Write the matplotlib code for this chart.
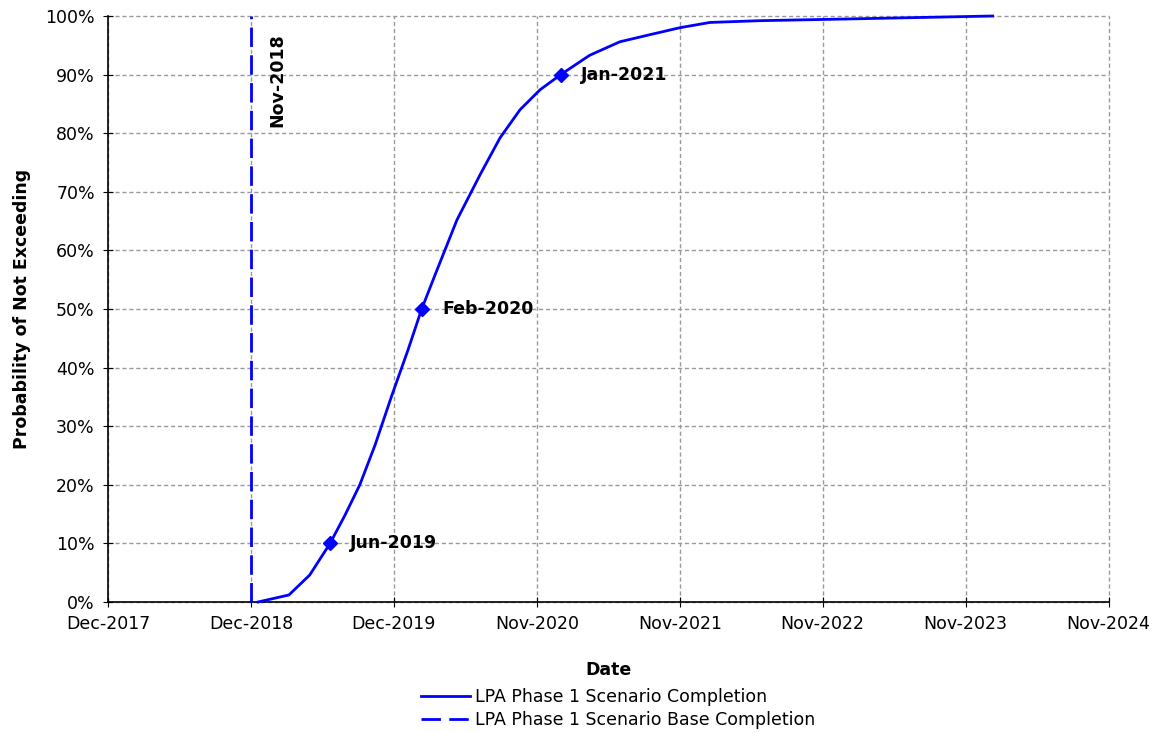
import datetime as dt
import matplotlib
matplotlib.use("Agg")
import matplotlib.pyplot as plt
import matplotlib.dates as mdates
from matplotlib.ticker import FuncFormatter

# Completion curve (date, probability %)
curve_dates = ["2018-12-19", "2019-03-08", "2019-04-30", "2019-06-21", "2019-07-29",
               "2019-09-05", "2019-10-14", "2019-11-26", "2020-01-06", "2020-02-10",
               "2020-03-15", "2020-05-10", "2020-07-08", "2020-08-28", "2020-10-18",
               "2020-12-08", "2021-01-30", "2021-04-14", "2021-06-30", "2021-09-14",
               "2021-11-30", "2022-02-15", "2022-06-22", "2023-02-07", "2024-02-07"]
curve_pct = [0, 1.2, 4.6, 10, 14.8, 20, 26.8, 35.3, 43, 50,
             55.8, 65.2, 72.9, 79.2, 84, 87.4, 90, 93.3, 95.6, 96.8,
             98, 98.9, 99.2, 99.5, 100]

# labelled points
mark_dates = ["2019-06-21", "2020-02-10", "2021-01-30"]
mark_pct = [10, 50, 90]
mark_labels = ["Jun-2019", "Feb-2020", "Jan-2021"]

base_date = "2018-12-01"
base_label = "Nov-2018"

# axis ticks every 365 days from Dec-2017
axis_start = dt.date(2017, 12, 1)
n_ticks = 8

to_date = lambda s: dt.datetime.strptime(s, "%Y-%m-%d")

plt.rcParams['font.family'] = ['DejaVu Sans']
fig = plt.figure(figsize=(11.6, 7.33), dpi=100)
ax = fig.add_axes([108/1160, 1 - 602/733, (1109-108)/1160, (602-16)/733])

blue = "#0000ff"
x = [to_date(d) for d in curve_dates]
ax.plot(x, curve_pct, color=blue, lw=2, label="LPA Phase 1 Scenario Completion",
        zorder=3, clip_on=False)

bx = to_date(base_date)
ax.plot([bx, bx], [0, 100], color=blue, lw=2, dashes=(7, 3),
        label="LPA Phase 1 Scenario Base Completion", zorder=3, clip_on=False)
ax.text(bx + dt.timedelta(days=68), 97, base_label, rotation=90, ha="center", va="top",
        fontsize=12.5, fontweight="bold")

mx = [to_date(d) for d in mark_dates]
ax.plot(mx, mark_pct, "D", color=blue, ms=7, zorder=4)
for xi, yi, lab in zip(mx, mark_pct, mark_labels):
    ax.text(xi + dt.timedelta(days=52), yi, lab, ha="left", va="center",
            fontsize=12.5, fontweight="bold")

ticks = [axis_start + dt.timedelta(days=365 * i) for i in range(n_ticks)]
ax.set_xticks(ticks)
ax.xaxis.set_major_formatter(mdates.DateFormatter("%b-%Y"))
ax.set_xlim(ticks[0], ticks[-1] + dt.timedelta(days=1))
ax.set_ylim(0, 100)
ax.set_yticks(range(0, 101, 10))
ax.yaxis.set_major_formatter(FuncFormatter(lambda v, p: "%d%%" % v))

ax.grid(True, color="#999999", lw=1, dashes=(3, 2), clip_on=False)
ax.set_axisbelow(True)
for s in ["top", "right"]:
    ax.spines[s].set_visible(False)
ax.spines["left"].set_linewidth(1.2)
ax.spines["bottom"].set_linewidth(1.2)
ax.tick_params(direction="inout", length=7, labelsize=12.5, pad=6, colors="black")

ax.set_xlabel("Date", fontsize=12.5, fontweight="bold", labelpad=20)
ax.set_ylabel("Probability of Not Exceeding", fontsize=12.5, fontweight="bold", labelpad=10)

leg = ax.legend(loc="upper center", bbox_to_anchor=(0.51, -0.12), frameon=False,
                fontsize=12.5, handlelength=2.8, labelspacing=0.3, handletextpad=0.3)

fig.savefig("out.png", dpi=100)
